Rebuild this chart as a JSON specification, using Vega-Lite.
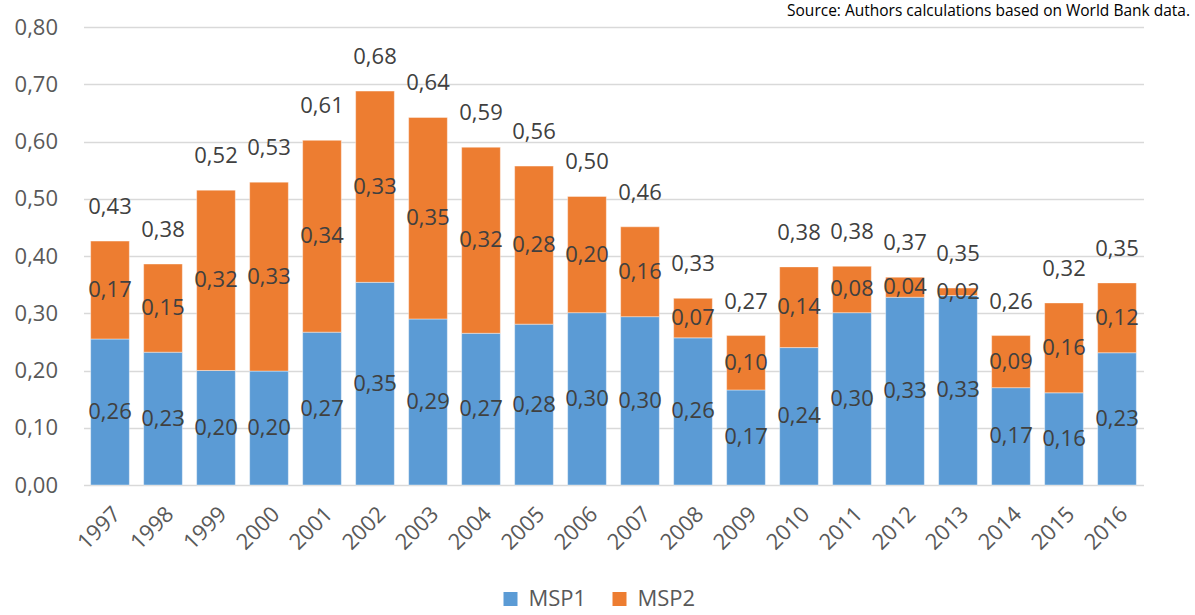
{
  "$schema": "https://vega.github.io/schema/vega-lite/v6.json",
  "width": 1060,
  "height": 458,
  "autosize": {"type": "none"},
  "padding": {"left": 83.5, "top": 27, "right": 51.5, "bottom": 130},
  "background": "white",
  "config": {
    "locale": {"number": {"decimal": ",", "thousands": ".", "grouping": [3], "currency": ["", " €"]}},
    "view": {"stroke": null},
    "font": "Open Sans"
  },
  "title": {
    "text": "Source: Authors calculations based on World Bank data.",
    "anchor": "end",
    "frame": "group",
    "orient": "top",
    "fontSize": 15.5,
    "fontWeight": "normal",
    "font": "Open Sans",
    "color": "#000000",
    "baseline": "alphabetic",
    "offset": 0,
    "dx": 46.5,
    "dy": 15
  },
  "datasets": {
    "parts": [
      {"year": "1997", "series": "MSP1", "value": 0.255, "label": 0.26},
      {"year": "1997", "series": "MSP2", "value": 0.171, "label": 0.17},
      {"year": "1998", "series": "MSP1", "value": 0.232, "label": 0.23},
      {"year": "1998", "series": "MSP2", "value": 0.154, "label": 0.15},
      {"year": "1999", "series": "MSP1", "value": 0.200, "label": 0.20},
      {"year": "1999", "series": "MSP2", "value": 0.315, "label": 0.32},
      {"year": "2000", "series": "MSP1", "value": 0.199, "label": 0.20},
      {"year": "2000", "series": "MSP2", "value": 0.330, "label": 0.33},
      {"year": "2001", "series": "MSP1", "value": 0.267, "label": 0.27},
      {"year": "2001", "series": "MSP2", "value": 0.335, "label": 0.34},
      {"year": "2002", "series": "MSP1", "value": 0.354, "label": 0.35},
      {"year": "2002", "series": "MSP2", "value": 0.334, "label": 0.33},
      {"year": "2003", "series": "MSP1", "value": 0.290, "label": 0.29},
      {"year": "2003", "series": "MSP2", "value": 0.352, "label": 0.35},
      {"year": "2004", "series": "MSP1", "value": 0.265, "label": 0.27},
      {"year": "2004", "series": "MSP2", "value": 0.325, "label": 0.32},
      {"year": "2005", "series": "MSP1", "value": 0.281, "label": 0.28},
      {"year": "2005", "series": "MSP2", "value": 0.276, "label": 0.28},
      {"year": "2006", "series": "MSP1", "value": 0.301, "label": 0.30},
      {"year": "2006", "series": "MSP2", "value": 0.203, "label": 0.20},
      {"year": "2007", "series": "MSP1", "value": 0.294, "label": 0.30},
      {"year": "2007", "series": "MSP2", "value": 0.157, "label": 0.16},
      {"year": "2008", "series": "MSP1", "value": 0.257, "label": 0.26},
      {"year": "2008", "series": "MSP2", "value": 0.069, "label": 0.07},
      {"year": "2009", "series": "MSP1", "value": 0.166, "label": 0.17},
      {"year": "2009", "series": "MSP2", "value": 0.095, "label": 0.10},
      {"year": "2010", "series": "MSP1", "value": 0.240, "label": 0.24},
      {"year": "2010", "series": "MSP2", "value": 0.141, "label": 0.14},
      {"year": "2011", "series": "MSP1", "value": 0.301, "label": 0.30},
      {"year": "2011", "series": "MSP2", "value": 0.081, "label": 0.08},
      {"year": "2012", "series": "MSP1", "value": 0.328, "label": 0.33},
      {"year": "2012", "series": "MSP2", "value": 0.035, "label": 0.04},
      {"year": "2013", "series": "MSP1", "value": 0.331, "label": 0.33},
      {"year": "2013", "series": "MSP2", "value": 0.013, "label": 0.02},
      {"year": "2014", "series": "MSP1", "value": 0.170, "label": 0.17},
      {"year": "2014", "series": "MSP2", "value": 0.091, "label": 0.09},
      {"year": "2015", "series": "MSP1", "value": 0.161, "label": 0.16},
      {"year": "2015", "series": "MSP2", "value": 0.157, "label": 0.16},
      {"year": "2016", "series": "MSP1", "value": 0.231, "label": 0.23},
      {"year": "2016", "series": "MSP2", "value": 0.122, "label": 0.12}
    ],
    "totals": [
      {"year": "1997", "total": 0.426, "label": 0.43},
      {"year": "1998", "total": 0.386, "label": 0.38},
      {"year": "1999", "total": 0.515, "label": 0.52},
      {"year": "2000", "total": 0.529, "label": 0.53},
      {"year": "2001", "total": 0.602, "label": 0.61},
      {"year": "2002", "total": 0.688, "label": 0.68},
      {"year": "2003", "total": 0.642, "label": 0.64},
      {"year": "2004", "total": 0.590, "label": 0.59},
      {"year": "2005", "total": 0.557, "label": 0.56},
      {"year": "2006", "total": 0.504, "label": 0.50},
      {"year": "2007", "total": 0.451, "label": 0.46},
      {"year": "2008", "total": 0.326, "label": 0.33},
      {"year": "2009", "total": 0.261, "label": 0.27},
      {"year": "2010", "total": 0.381, "label": 0.38},
      {"year": "2011", "total": 0.382, "label": 0.38},
      {"year": "2012", "total": 0.363, "label": 0.37},
      {"year": "2013", "total": 0.344, "label": 0.35},
      {"year": "2014", "total": 0.261, "label": 0.26},
      {"year": "2015", "total": 0.318, "label": 0.32},
      {"year": "2016", "total": 0.353, "label": 0.35}
    ]
  },
  "encoding": {
    "x": {
      "field": "year",
      "type": "ordinal",
      "scale": {"paddingInner": 0.27, "paddingOuter": 0.135},
      "axis": {
        "title": null,
        "labelAngle": -45,
        "labelFontSize": 22,
        "labelColor": "#595959",
        "labelPadding": 18,
        "domain": false,
        "ticks": false,
        "grid": false
      }
    }
  },
  "layer": [
    {
      "data": {"name": "parts"},
      "mark": {"type": "bar", "stroke": "#ffffff", "strokeWidth": 0.8, "strokeOpacity": 0.5},
      "encoding": {
        "y": {
          "field": "value",
          "type": "quantitative",
          "stack": "zero",
          "scale": {"domain": [0, 0.8], "nice": false},
          "axis": {
            "title": null,
            "values": [0, 0.1, 0.2, 0.3, 0.4, 0.5, 0.6, 0.7, 0.8],
            "format": ".2f",
            "labelFontSize": 22,
            "labelColor": "#595959",
            "labelPadding": 26,
            "domain": false,
            "ticks": false,
            "grid": true,
            "gridColor": "#d9d9d9",
            "gridWidth": 1.3
          }
        },
        "order": {"field": "series", "type": "ordinal", "sort": "ascending"},
        "color": {
          "field": "series",
          "type": "nominal",
          "scale": {"domain": ["MSP1", "MSP2"], "range": ["#5B9BD5", "#ED7D31"]},
          "legend": {
            "title": null,
            "orient": "none",
            "direction": "horizontal",
            "legendX": 416,
            "legendY": 561,
            "symbolType": "square",
            "symbolSize": 196,
            "symbolStrokeWidth": 0,
            "labelFontSize": 22,
            "labelColor": "#595959",
            "labelOffset": 7,
            "columnPadding": 22
          }
        }
      }
    },
    {
      "data": {"name": "parts"},
      "mark": {"type": "text", "fontSize": 22, "color": "#404040", "baseline": "middle", "align": "center"},
      "encoding": {
        "y": {"field": "value", "type": "quantitative", "stack": "zero", "bandPosition": 0.5},
        "order": {"field": "series", "type": "ordinal", "sort": "ascending"},
        "detail": {"field": "series", "type": "nominal"},
        "text": {"field": "label", "type": "quantitative", "format": ".2f"}
      }
    },
    {
      "data": {"name": "totals"},
      "mark": {"type": "text", "fontSize": 22, "color": "#404040", "baseline": "middle", "align": "center", "dy": -34},
      "encoding": {
        "y": {"field": "total", "type": "quantitative"},
        "text": {"field": "label", "type": "quantitative", "format": ".2f"}
      }
    }
  ]
}
